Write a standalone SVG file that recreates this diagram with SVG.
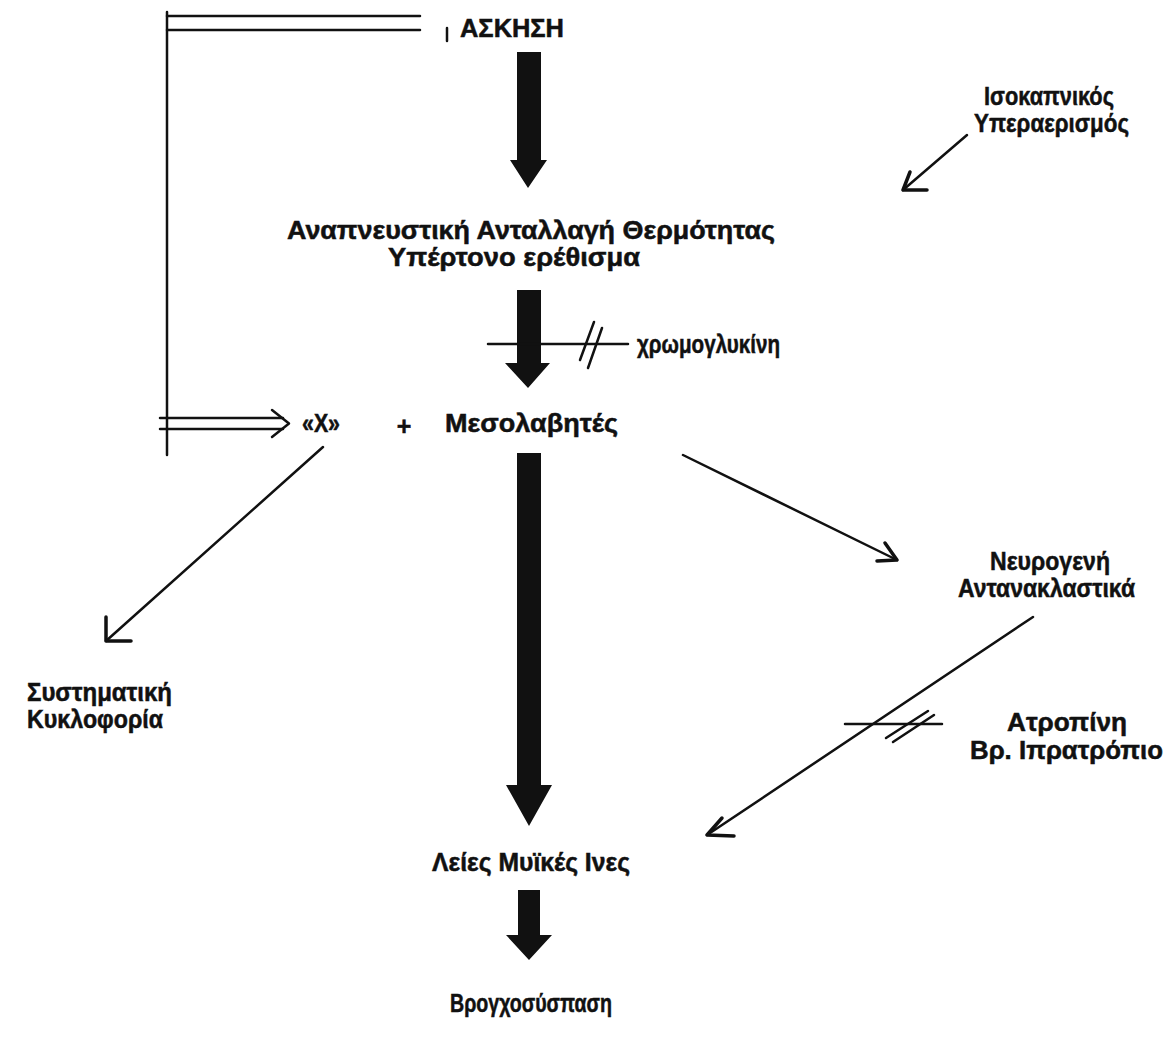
<svg xmlns="http://www.w3.org/2000/svg" width="1170" height="1043" viewBox="0 0 1170 1043">
<style>
text{font-family:"Liberation Sans",Arial,sans-serif;font-weight:bold;font-size:25px;fill:#111;stroke:#111;stroke-width:0.5}
.ln{fill:none;stroke:#111;stroke-width:2.5;stroke-linecap:round;stroke-linejoin:round}
.ah{fill:none;stroke:#111;stroke-width:3.5;stroke-linecap:round;stroke-linejoin:round}
.big{fill:#111}
</style>
<rect width="1170" height="1043" fill="#fff"/>
<g id="connectors">
  <path class="ln" d="M167,12 V455"/>
  <path class="ln" d="M167,16 H420 M167,30 H420"/>
  <path class="ln" d="M160,418 H283 M160,429 H283"/>
  <path class="ln" d="M272,410 L289,423.5 L272,437"/>
  <polygon class="big" points="517,52 541,52 541,160 547,160 528,188 510,160 517,160"/>
  <polygon class="big" points="517,290 541,290 541,363 550,363 528,388 505,363 517,363"/>
  <polygon class="big" points="517,453 541,453 541,785 552,785 529,826 506,785 517,785"/>
  <polygon class="big" points="518,890 540,890 540,935 552,935 529,960 506,935 518,935"/>
  <path class="ln" d="M488,344 H628"/>
  <path class="ln" d="M580,360 L594,322 M588,368 L602,328"/>
  <path class="ln" d="M967,135 L903,190"/>
  <path class="ah" d="M910,172 L903,190 L927,190"/>
  <path class="ln" d="M323,447 L106,641"/>
  <path class="ah" d="M106,617 L106,641 L131,641"/>
  <path class="ln" d="M683,455 L897,560"/>
  <path class="ah" d="M885,543 L897,560 L877,561"/>
  <path class="ln" d="M1033,617 L707,835"/>
  <path class="ah" d="M722,818 L707,835 L734,836"/>
  <path class="ln" d="M845,724 H942"/>
  <path class="ln" d="M886,738 L928,711 M893,742 L934,715"/>
</g>
<g id="askisi">
  <path class="ln" d="M447,28 V41"/>
  <text x="460" y="37" font-size="26" textLength="104" lengthAdjust="spacingAndGlyphs">ΑΣΚΗΣΗ</text>
</g>
<g id="isokapniko">
  <text x="984" y="105" textLength="130" lengthAdjust="spacingAndGlyphs">Ισοκαπνικός</text>
  <text x="974" y="132" textLength="155" lengthAdjust="spacingAndGlyphs">Υπεραερισμός</text>
</g>
<g id="anapneustiki">
  <text x="287" y="239" textLength="488" lengthAdjust="spacingAndGlyphs">Αναπνευστική Ανταλλαγή Θερμότητας</text>
  <text x="388" y="266" textLength="252" lengthAdjust="spacingAndGlyphs">Υπέρτονο ερέθισμα</text>
</g>
<g id="chromoglykini">
  <text x="637" y="353" textLength="143" lengthAdjust="spacingAndGlyphs">χρωμογλυκίνη</text>
</g>
<g id="x">
  <text x="302" y="432" textLength="38" lengthAdjust="spacingAndGlyphs">«Χ»</text>
  <text x="404" y="435" text-anchor="middle">+</text>
</g>
<g id="mesolavites">
  <text x="445" y="432" textLength="173" lengthAdjust="spacingAndGlyphs">Μεσολαβητές</text>
</g>
<g id="neurogeni">
  <text x="990" y="570" textLength="120" lengthAdjust="spacingAndGlyphs">Νευρογενή</text>
  <text x="958" y="597" textLength="177" lengthAdjust="spacingAndGlyphs">Αντανακλαστικά</text>
</g>
<g id="systimatiki">
  <text x="27" y="701" textLength="145" lengthAdjust="spacingAndGlyphs">Συστηματική</text>
  <text x="27" y="728" textLength="136" lengthAdjust="spacingAndGlyphs">Κυκλοφορία</text>
</g>
<g id="atropini">
  <text x="1007" y="731" textLength="120" lengthAdjust="spacingAndGlyphs">Ατροπίνη</text>
  <text x="970" y="759" textLength="193" lengthAdjust="spacingAndGlyphs">Βρ. Ιπρατρόπιο</text>
</g>
<g id="leies">
  <text x="432" y="871" textLength="198" lengthAdjust="spacingAndGlyphs">Λείες Μυϊκές Ινες</text>
</g>
<g id="vrogxosyspasi">
  <text x="450" y="1012" textLength="162" lengthAdjust="spacingAndGlyphs">Βρογχοσύσπαση</text>
</g>
</svg>
